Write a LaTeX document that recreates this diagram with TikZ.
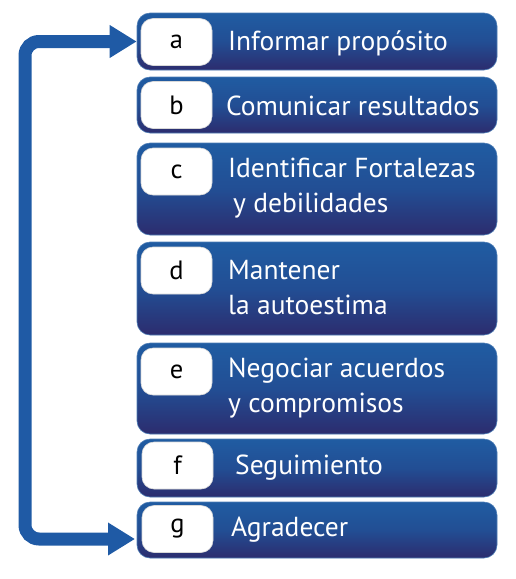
\documentclass[tikz,border=0pt]{standalone}
\usepackage{fontspec}
\setmainfont{PT Sans}
\usetikzlibrary{arrows.meta}
\definecolor{btop}{RGB}{32,92,162}
\definecolor{bmid}{RGB}{34,78,148}
\definecolor{bbot}{RGB}{44,44,110}
\definecolor{arrowblue}{RGB}{31,90,165}
\tikzset{
  mainbox/.style={rounded corners=13pt, minimum width=360pt, inner sep=0pt,
    top color=btop, bottom color=bbot, middle color=bmid, draw=btop!80!white, line width=0.6pt},
  letterbox/.style={rounded corners=12pt, fill=white, draw=black!15, line width=0.6pt,
    minimum width=71pt, minimum height=47pt, inner sep=0pt,
    font=\fontsize{26.5}{30}\selectfont, text=black},
  label/.style={anchor=west, align=left, text=white, inner sep=0pt,
    font=\fontsize{27.5}{35}\selectfont},
  arr/.style={draw=arrowblue, line width=13pt, rounded corners=14pt,
    {Triangle[length=27pt,width=31pt]}-{Triangle[length=27pt,width=31pt]}}
}
\begin{document}
\begin{tikzpicture}[x=1pt,y=-1pt]
\useasboundingbox (0,0) rectangle (515,579);
% boxes
\node[mainbox, minimum height=57pt] (A) at (317,41.5) {};
\node[mainbox, minimum height=56pt] (B) at (317,105) {};
\node[mainbox, minimum height=92pt] (C) at (317,189) {};
\node[mainbox, minimum height=93pt] (D) at (317,288.5) {};
\node[mainbox, minimum height=91pt] (E) at (317,388.5) {};
\node[mainbox, minimum height=58pt] (F) at (317,468) {};
\node[mainbox, minimum height=56pt] (G) at (317,530) {};
% letter boxes
\node[letterbox] (la) at (176.5,42) {a};
\node[letterbox] (lb) at (176.5,105) {b};
\node[letterbox] (lc) at (176.5,171.5) {c};
\node[letterbox] (ld) at (176.5,270.5) {d};
\node[letterbox] (le) at (176.5,371.5) {e};
\node[letterbox] (lf) at (177.5,465.5) {f};
\node[letterbox] (lg) at (177.5,529) {g};
% texts
\node[label] (ta) at (228,43) {Informar propósito};
\node[label] (tb) at (226,105.5) {Comunicar resultados};
\node[label] (tc) at (228,188.5) {Identificar Fortalezas\\\hspace*{5pt}y debilidades};
\node[label] (td) at (228,288) {Mantener\\la autoestima};
\node[label] (te) at (228,388) {Negociar acuerdos\\y compromisos};
\node[label] (tf) at (235,467.5) {Seguimiento};
\node[label] (tg) at (231,530) {Agradecer};
% loop arrow
\coordinate (ain) at (A.west);
\coordinate (gin) at (135,539);
\draw[arr] (ain) -- (25,41.5) -- (25,539) -- (gin);
\end{tikzpicture}
\end{document}
